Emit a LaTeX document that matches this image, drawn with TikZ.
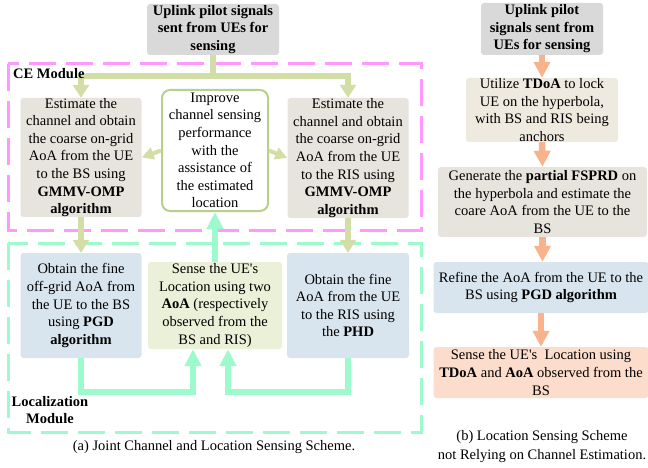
\documentclass[tikz,border=0pt]{standalone}
\usepackage{fontspec}
\setmainfont{Liberation Serif}
\usetikzlibrary{arrows.meta}
\definecolor{pinkd}{HTML}{FF99FF}
\definecolor{mintc}{HTML}{9CFACC}
\definecolor{olivec}{HTML}{D3DEA6}
\definecolor{orangec}{HTML}{F9B38C}
\definecolor{grayb}{HTML}{D9D9D9}
\definecolor{beigeb}{HTML}{E7E4DD}
\definecolor{beige2}{HTML}{EFEADF}
\definecolor{blueb}{HTML}{D9E5EE}
\definecolor{yellowb}{HTML}{EBF0D8}
\definecolor{peachb}{HTML}{FCDDCB}
\definecolor{greenbd}{HTML}{B5D18A}
\begin{document}
\begin{tikzpicture}[x=1pt,y=-1pt,
  box/.style={rounded corners=3pt, align=center, inner sep=0pt, font=\fontsize{14.5}{17.6}\selectfont},
  oarrow/.style={draw=olivec, line width=6pt, -{Triangle[width=16pt,length=13pt]}},
  oarrows/.style={draw=olivec, line width=4pt, -{Triangle[width=12pt,length=12pt]}},
  marrow/.style={draw=mintc, line width=6.5pt, -{Triangle[width=16pt,length=17pt]}},
  rarrow/.style={draw=orangec, line width=6.5pt, -{Triangle[width=16pt,length=16pt]}},
  frame/.style={line width=3pt, dash pattern=on 27pt off 10pt},
  modlabel/.style={font=\fontsize{14.5}{17}\selectfont\bfseries, align=center, inner sep=0pt},
  caption/.style={font=\fontsize{14.5}{19}\selectfont, align=center, inner sep=0pt}]
\useasboundingbox (0,0) rectangle (648,468);
% module frames
\draw[frame, pinkd] (8,64) rectangle (421,230);
\draw[frame, mintc] (8,243) rectangle (421,432);
% (a) nodes
\node[box, fill=grayb, font=\fontsize{14.5}{17.5}\selectfont\bfseries, minimum width=132pt, minimum height=51pt] (top) at (213,29.5) {Uplink pilot signals\\sent from UEs for\\sensing};
\node[box, fill=beigeb, minimum width=121pt, minimum height=119pt] (L1) at (81,157.5) {Estimate the\\channel and obtain\\the coarse on-grid\\AoA from the UE\\to the BS using\\\textbf{GMMV-OMP}\\\textbf{algorithm}};
\node[box, fill=white, draw=greenbd, line width=2pt, rounded corners=8pt, minimum width=106pt, minimum height=121pt] (C) at (215,150.5) {Improve\\channel sensing\\performance\\with the\\assistance of\\the estimated\\location};
\node[box, fill=beigeb, minimum width=121pt, minimum height=120pt] (R1) at (348,158) {Estimate the\\channel and obtain\\the coarse on-grid\\AoA from the UE\\to the RIS using\\\textbf{GMMV-OMP}\\\textbf{algorithm}};
\node[box, fill=blueb, minimum width=121pt, minimum height=105pt] (L2) at (81,305.5) {Obtain the fine\\off-grid AoA from\\the UE to the BS\\using \textbf{PGD}\\\textbf{algorithm}};
\node[box, fill=yellowb, minimum width=134pt, minimum height=87pt] (M2) at (215,305.5) {Sense the UE\textquotesingle s\\Location using two\\\textbf{AoA} (respectively\\observed from the\\BS and RIS)};
\node[box, fill=blueb, minimum width=122pt, minimum height=105pt] (R2) at (348,305.5) {Obtain the fine\\AoA from the UE\\to the RIS using\\the \textbf{PHD}};
% (a) connectors
\coordinate (split) at (213,76);
\draw[draw=olivec, line width=6pt] (top.south) -- (split);
\draw[oarrow] (split) -| (L1.north);
\draw[oarrow] (split) -| (R1.north);
\draw[oarrows] (C.west) -- (L1.east);
\draw[oarrows] (C.east) -- (R1.east -| R1.west);
\draw[oarrow] (L1.south) -- (L2.north);
\draw[oarrow] (R1.south) -- (R2.north);
\draw[marrow] (M2.north) -- (C.south);
\draw[marrow] (L2.south) -- ++(0,34) -| ([xshift=-22pt]M2.south);
\draw[marrow] (R2.south) -- ++(0,34) -| ([xshift=13pt]M2.south);
% labels
\node[modlabel, anchor=west] (ce) at (13,74) {CE Module};
\node[modlabel] (loc) at (50,410.5) {Localization\\Module};
\node[caption] (capa) at (214,447) {(a) Joint Channel and Location Sensing Scheme.};
% (b) nodes
\node[box, fill=grayb, font=\fontsize{14.5}{17.5}\selectfont\bfseries, minimum width=122pt, minimum height=52pt] (T) at (542,29) {Uplink pilot\\signals sent from\\UEs for sensing};
\node[box, fill=beige2, minimum width=152pt, minimum height=64pt] (B2) at (542,110) {Utilize \textbf{TDoA} to lock\\UE on the hyperbola,\\with BS and RIS being\\anchors};
\node[box, fill=beigeb, minimum width=209pt, minimum height=70pt] (B3) at (542.5,202) {Generate the \textbf{partial FSPRD} on\\the hyperbola and estimate the\\coare AoA from the UE to the\\BS};
\node[box, fill=blueb, minimum width=215pt, minimum height=51pt] (B4) at (541,287.5) {Refine the AoA from the UE to the\\BS using \textbf{PGD algorithm}};
\node[box, fill=peachb, minimum width=215pt, minimum height=51pt] (B5) at (541,372.5) {Sense the UE\textquotesingle s\ \ Location using\\\textbf{TDoA} and \textbf{AoA} observed from the\\BS};
\draw[rarrow] (T.south) -- (B2.north);
\draw[rarrow] (B2.south) -- (B3.north);
\draw[rarrow] (B3.south) -- (B3.south |- B4.north);
\draw[rarrow] (B4.south) -- (B5.north);
\node[caption] (capb) at (542,446.5) {(b) Location Sensing Scheme\\not Relying on Channel Estimation.};
\end{tikzpicture}
\end{document}
